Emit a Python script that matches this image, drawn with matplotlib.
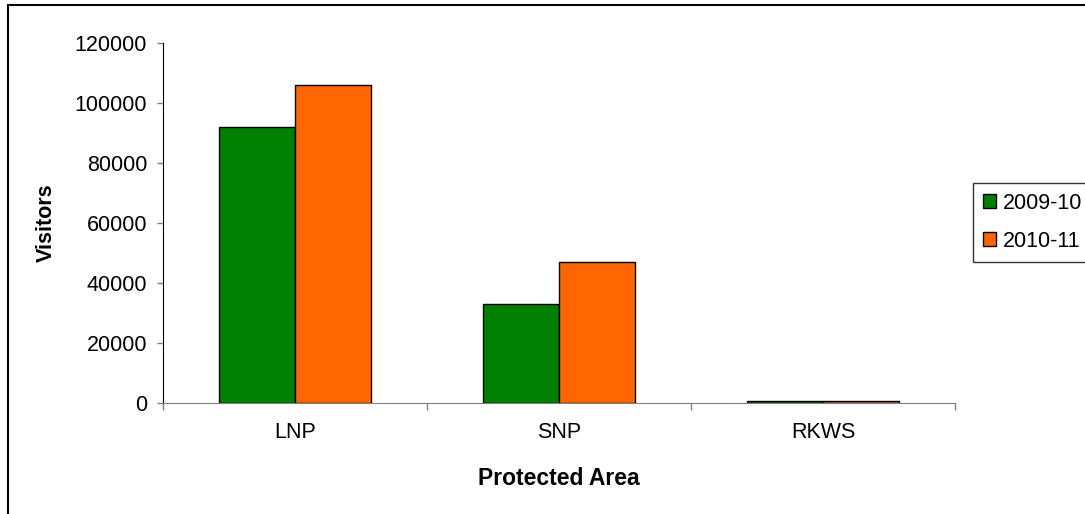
import matplotlib
matplotlib.use("Agg")
import matplotlib.pyplot as plt
import numpy as np
from matplotlib.patches import Rectangle

plt.rcParams["font.family"] = ["Liberation Sans", "DejaVu Sans"]

areas = ["LNP", "SNP", "RKWS"]
visitors_0910 = [92000, 33000, 600]
visitors_1011 = [106000, 47000, 700]
series_labels = ["2009-10", "2010-11"]
colors = ["#008000", "#FF6600"]

fig = plt.figure(figsize=(10.85, 5.14), dpi=100)
ax = fig.add_axes([163 / 1085, 1 - 403 / 514, 792 / 1085, 360 / 514])

x = np.arange(len(areas))
w = 0.288
ax.bar(x - w / 2, visitors_0910, w, color=colors[0], edgecolor="black", linewidth=1,
       label=series_labels[0])
ax.bar(x + w / 2, visitors_1011, w, color=colors[1], edgecolor="black", linewidth=1,
       label=series_labels[1])

ax.set_xlim(-0.5, len(areas) - 0.5)
ax.set_ylim(0, 120000)
ax.set_yticks(range(0, 120001, 20000))
ax.set_xticks(x)
ax.set_xticklabels(areas, fontsize=15.5)
ax.set_xticks(np.arange(-0.5, len(areas), 1), minor=True)
ax.tick_params(axis="x", which="major", length=0, pad=14)
ax.tick_params(axis="x", which="minor", length=5, color="#808080", width=1)
ax.tick_params(axis="y", labelsize=15.5, length=4.5, color="#808080", width=1, pad=7)

for s in ("top", "right"):
    ax.spines[s].set_visible(False)
ax.spines["left"].set_color("black")
ax.spines["bottom"].set_color("#808080")

ax.set_xlabel("Protected Area", fontsize=16.5, fontweight="bold", labelpad=17)
ax.set_ylabel("Visitors", fontsize=15.5, fontweight="bold", labelpad=13)

leg = fig.legend(loc="upper left", bbox_to_anchor=(973 / 1085, 1 - 183 / 514),
                 fontsize=15.5, frameon=True, fancybox=False, handlelength=0.6,
                 handleheight=0.6, handletextpad=0.35, borderpad=0.45,
                 labelspacing=0.8, borderaxespad=0)
leg.get_frame().set_edgecolor("black")
leg.get_frame().set_linewidth(1)

fig.patches.append(Rectangle((8 / 1085, -0.1), 1.2, 1 - 5 / 514 + 0.1,
                             transform=fig.transFigure, fill=False,
                             edgecolor="black", linewidth=1.5))

fig.savefig("out.png", dpi=100)
